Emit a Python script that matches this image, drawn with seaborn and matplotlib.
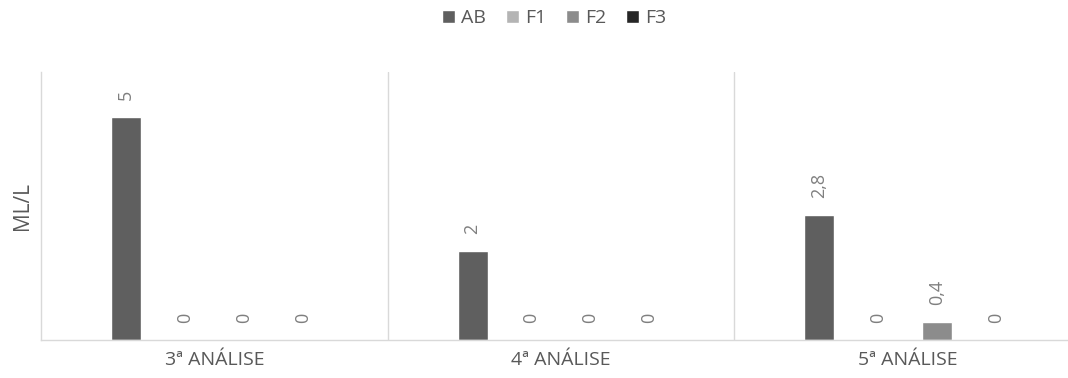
import matplotlib
matplotlib.use("Agg")
import matplotlib.pyplot as plt
import seaborn as sns
import pandas as pd

# Chart data
analyses = ["3ª ANÁLISE", "4ª ANÁLISE", "5ª ANÁLISE"]
series = ["AB", "F1", "F2", "F3"]
ab = [5, 2, 2.8]
f1 = [0, 0, 0]
f2 = [0, 0, 0.4]
f3 = [0, 0, 0]

palette = ["#5f5f5f", "#b4b4b4", "#8c8c8c", "#262626"]

rows = []
for name, vals in zip(series, [ab, f1, f2, f3]):
    for a, v in zip(analyses, vals):
        rows.append({"Análise": a, "Série": name, "Valor": v})
df = pd.DataFrame(rows)

sns.set_theme(style="white")
plt.rcParams["font.family"] = ["Open Sans", "DejaVu Sans"]

fig = plt.figure(figsize=(10.68, 3.78), dpi=100)
ax = fig.add_axes([41 / 1068, 38 / 378, 1040 / 1068, 268 / 378])

sns.barplot(data=df, x="Análise", y="Valor", hue="Série", order=analyses,
            hue_order=series, palette=palette, width=0.68, gap=0.49,
            saturation=1, ax=ax, legend=True)

text_color = "#7f7f7f"
for cont in ax.containers:
    labels = [f"{b.get_height():g}".replace(".", ",") for b in cont]
    ax.bar_label(cont, labels=labels, rotation=90, padding=12,
                 color=text_color, fontsize=13)

ax.set_ylim(0, 6)
ax.set_xlim(-0.5, 2.5)
ax.set_yticks([])
ax.set_xlabel("")
ax.set_ylabel("ML/L", fontsize=15, color="#595959", labelpad=6)
ax.tick_params(axis="x", length=0, labelsize=14, labelcolor="#595959", pad=8)

for s in ["top", "right"]:
    ax.spines[s].set_visible(False)
for s in ["left", "bottom"]:
    ax.spines[s].set_color("#d9d9d9")
    ax.spines[s].set_linewidth(1)
for xpos in [0.5, 1.5]:
    ax.axvline(xpos, color="#d9d9d9", linewidth=1)

leg = ax.legend(loc="center", bbox_to_anchor=(513 / 1040, 1.2), ncol=4,
                frameon=False, handlelength=0.7, handleheight=0.7,
                handletextpad=0.3, columnspacing=1.0, fontsize=14)
for t in leg.get_texts():
    t.set_color("#595959")

fig.savefig("out.png", dpi=100)
